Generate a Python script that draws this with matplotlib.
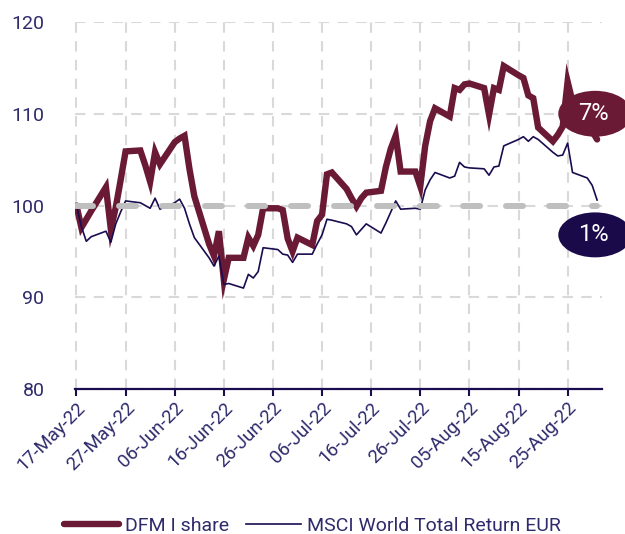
import matplotlib
matplotlib.use("Agg")
import matplotlib.pyplot as plt
import matplotlib.dates as mdates
from matplotlib.patches import Ellipse
import pandas as pd
import numpy as np

plt.rcParams['font.family'] = ['Roboto', 'DejaVu Sans']

# ---- data ----
dates = pd.bdate_range('2022-05-17', '2022-08-31')

dfm_may = [100.0, 97.6, 98.5, 99.4, 102.0, 97.4, 99.8, 102.8, 105.9, 106.0, 104.4]
dfm_jun = [102.6, 105.8, 104.5, 106.9, 107.3, 107.6, 104.0, 101.0, 95.8, 94.5, 97.2,
           91.9, 94.3, 94.3, 96.5, 95.6, 96.8, 99.7, 99.7, 99.5, 96.4, 95.0]
dfm_jul = [96.5, 95.7, 98.3, 99.0, 103.4, 103.6, 101.8, 100.8, 99.9, 100.8, 101.4,
           101.6, 104.2, 106.2, 107.6, 103.7, 103.7, 102.1, 106.5, 109.2, 110.6]
dfm_aug = [109.7, 112.8, 112.6, 113.2, 113.3, 112.8, 109.9, 112.8, 112.6, 115.2, 114.2,
           113.9, 112.0, 111.7, 108.5, 107.0, 107.7, 108.6, 113.5, 111.3, 109.0, 108.1, 107.2]

msci_may = [100.0, 97.7, 96.1, 96.6, 97.2, 96.0, 98.0, 99.3, 100.5, 100.3, 100.0]
msci_jun = [99.7, 100.8, 99.6, 100.3, 100.7, 99.7, 98.0, 96.5, 94.3, 93.4, 94.5,
            91.4, 91.5, 91.0, 92.5, 92.1, 92.8, 95.4, 95.2, 94.7, 94.6, 93.8]
msci_jul = [94.7, 94.7, 95.8, 96.8, 98.5, 98.4, 98.0, 97.7, 96.8, 97.4, 98.0,
            97.0, 98.1, 99.3, 100.5, 99.6, 99.7, 99.6, 101.7, 102.8, 103.6]
msci_aug = [103.0, 103.2, 104.7, 104.2, 104.1, 104.0, 103.3, 104.2, 104.3, 106.5, 107.2,
            107.5, 107.0, 107.5, 107.2, 105.8, 105.4, 105.5, 106.8, 103.6, 103.0, 102.2, 100.6]

dfm = dfm_may + dfm_jun + dfm_jul + dfm_aug
msci = msci_may + msci_jun + msci_jul + msci_aug
baseline = [100.0] * len(dates)

series_names = ['DFM I share', 'MSCI World Total Return EUR']
yticks = [80, 90, 100, 110, 120]
tick_start = pd.Timestamp('2022-05-17')
tick_dates = [tick_start + pd.Timedelta(days=10 * k) for k in range(11)]

# ---- style ----
maroon = '#6b1a35'
navy = '#1a0c4f'
txt = '#2e2a6b'
gray = '#bfbfbf'
grid = '#d9d9d9'

fig = plt.figure(figsize=(6.25, 5.34), dpi=100)
ax = fig.add_axes([0.12, 0.2715, 0.8432, 0.6873])

x = mdates.date2num(dates)
ax.plot(x, dfm, color=maroon, lw=4.6, solid_joinstyle='miter', solid_capstyle='round',
        label=series_names[0], zorder=3)
ax.plot(x, msci, color=navy, lw=1.2, label=series_names[1], zorder=4)
bl, = ax.plot(x, baseline, color=gray, lw=4.3, solid_capstyle='round', zorder=5)
bl.set_dashes((2.85, 4.35))
bl.set_dash_capstyle('round')

x0 = mdates.date2num(tick_start)
ax.set_xlim(x0 - 0.3, x0 + 107.0)
ax.set_ylim(80, 120)
ax.set_yticks(yticks)
ax.set_xticks(mdates.date2num(tick_dates))
ax.xaxis.set_major_formatter(mdates.DateFormatter('%d-%b-%y'))

for s in ['top', 'right', 'left']:
    ax.spines[s].set_visible(False)
ax.spines['bottom'].set_color(navy)
ax.spines['bottom'].set_linewidth(1.6)
ax.spines['bottom'].set_zorder(6)

ax.grid(True, color=grid, lw=1.5, ls=(0, (5, 4)), zorder=0)
ax.set_axisbelow(True)

ax.tick_params(axis='y', length=0, pad=22, labelsize=14, labelcolor=txt)
ax.tick_params(axis='x', length=5, width=1.5, color=navy, direction='out', pad=2,
               labelsize=13.5, labelcolor=txt)
for lab in ax.get_xticklabels():
    lab.set_rotation(45)
    lab.set_ha('right')
    lab.set_va('top')
    lab.set_rotation_mode('anchor')

# end-value callouts
dfm_pct = f"{round(dfm[-1] - 100):d}%"
msci_pct = f"{round(msci[-1] - 100):d}%"
cx = x0 + 105.6
for cy, h, col, s in [(110.0, 5.0, maroon, dfm_pct), (96.8, 4.9, '#1a0a4a', msci_pct)]:
    e = Ellipse((cx, cy), width=15.0, height=h, facecolor=col, edgecolor='none',
                zorder=7, clip_on=False)
    ax.add_patch(e)
    ax.text(cx - 0.4, cy, s, color='white', fontsize=17, ha='center', va='center',
            zorder=8, clip_on=False)

leg = fig.legend(loc='lower center', bbox_to_anchor=(0.5, -0.035), ncol=2, frameon=False,
                 fontsize=14, handlelength=2.8, handletextpad=0.3, columnspacing=0.9)
for t in leg.get_texts():
    t.set_color(txt)

fig.savefig('out.png', dpi=100)
